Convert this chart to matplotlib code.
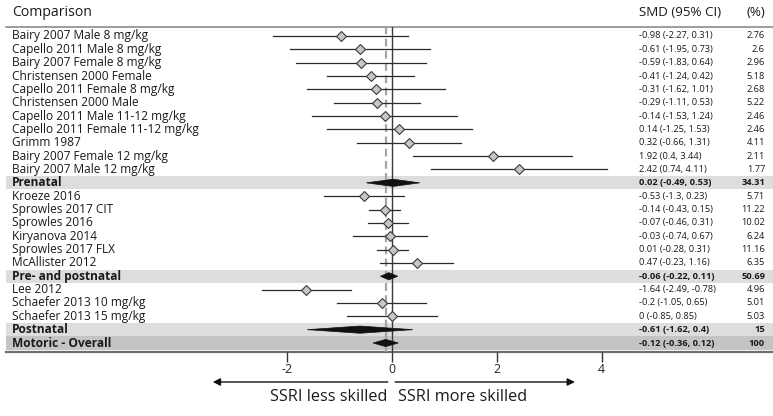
import matplotlib
matplotlib.use("Agg")
import matplotlib.pyplot as plt
from matplotlib.patches import Polygon
from matplotlib.transforms import blended_transform_factory

plt.rcParams['font.family'] = ['Open Sans', 'DejaVu Sans']

# ---- data -------------------------------------------------------------
labels = [
    "Bairy 2007 Male 8 mg/kg", "Capello 2011 Male 8 mg/kg", "Bairy 2007 Female 8 mg/kg",
    "Christensen 2000 Female", "Capello 2011 Female 8 mg/kg", "Christensen 2000 Male",
    "Capello 2011 Male 11-12 mg/kg", "Capello 2011 Female 11-12 mg/kg", "Grimm 1987",
    "Bairy 2007 Female 12 mg/kg", "Bairy 2007 Male 12 mg/kg", "Prenatal",
    "Kroeze 2016", "Sprowles 2017 CIT", "Sprowles 2016", "Kiryanova 2014",
    "Sprowles 2017 FLX", "McAllister 2012", "Pre- and postnatal",
    "Lee 2012", "Schaefer 2013 10 mg/kg", "Schaefer 2013 15 mg/kg", "Postnatal",
    "Motoric - Overall",
]
smd = [-0.98, -0.61, -0.59, -0.41, -0.31, -0.29, -0.14, 0.14, 0.32, 1.92, 2.42, 0.02,
       -0.53, -0.14, -0.07, -0.03, 0.01, 0.47, -0.06,
       -1.64, -0.2, 0, -0.61, -0.12]
ci_low = [-2.27, -1.95, -1.83, -1.24, -1.62, -1.11, -1.53, -1.25, -0.66, 0.4, 0.74, -0.49,
          -1.3, -0.43, -0.46, -0.74, -0.28, -0.23, -0.22,
          -2.49, -1.05, -0.85, -1.62, -0.36]
ci_high = [0.31, 0.73, 0.64, 0.42, 1.01, 0.53, 1.24, 1.53, 1.31, 3.44, 4.11, 0.53,
           0.23, 0.15, 0.31, 0.67, 0.31, 1.16, 0.11,
           -0.78, 0.65, 0.85, 0.4, 0.12]
weights = [2.76, 2.6, 2.96, 5.18, 2.68, 5.22, 2.46, 2.46, 4.11, 2.11, 1.77, 34.31,
           5.71, 11.22, 10.02, 6.24, 11.16, 6.35, 50.69,
           4.96, 5.01, 5.03, 15, 100]
row_kind = (["study"] * 11 + ["subgroup"] + ["study"] * 6 + ["subgroup"]
            + ["study"] * 3 + ["subgroup", "overall"])
xticks = [-2, 0, 2, 4]
overall_smd = -0.12

# ---- layout -----------------------------------------------------------
W, H = 773, 416
PX_PER_UNIT = 52.4
X0_PX = 392            # pixel column of SMD = 0
TOP_PX, BOT_PX = 27, 352

fig = plt.figure(figsize=(W / 100, H / 100), dpi=100)
ax = fig.add_axes([0, 1 - BOT_PX / H, 1, (BOT_PX - TOP_PX) / H])
ax.set_xlim(-X0_PX / PX_PER_UNIT, (W - X0_PX) / PX_PER_UNIT)
n = len(labels)
row_h = 13.35
pad = 9 / row_h
ax.set_ylim(n + pad, 1 - pad)

for s in ["top", "left", "right", "bottom"]:
    ax.spines[s].set_visible(False)
ax.set_yticks([])
ax.set_xticks(xticks)
ax.set_xticklabels([f"{t:g}" for t in xticks])
ax.tick_params(axis="x", direction="out", length=7, width=1, color="#333333",
               labelsize=8.8, labelcolor="#222222", pad=1)

band_x0 = 6 / W
ys = list(range(1, n + 1))

# shaded summary rows
for y, k in zip(ys, row_kind):
    if k == "subgroup":
        ax.axhspan(y - 0.5, y + 0.5, xmin=band_x0, xmax=1, color="#dcdddd", lw=0, zorder=0)
    elif k == "overall":
        ax.axhspan(y - 0.5, y + 0.5, xmin=band_x0, xmax=1, color="#c3c4c4", lw=0, zorder=0)

# header and bottom rules
ax.axhline(1 - pad, xmin=band_x0, xmax=1, color="#8c8c8c", lw=1.2, zorder=1, clip_on=False)
ax.axhline(n + pad, xmin=band_x0, xmax=1, color="#6e6e6e", lw=1.6, zorder=1, clip_on=False)

# reference lines: no effect, and overall estimate
ax.axvline(0, color="#3a3a3a", lw=1.0, zorder=2)
ax.axvline(overall_smd, color="#a5a5a5", lw=1.6, ls=(0, (3.5, 2)), zorder=2)

# study estimates and summary diamonds
for y, k, m, lo, hi in zip(ys, row_kind, smd, ci_low, ci_high):
    if k == "study":
        ax.plot([lo, hi], [y, y], color="#2a2a2a", lw=0.9, zorder=3)
        ax.plot([m], [y], marker="D", ms=5, mfc="#c6c6c6", mec="#3a3a3a", mew=0.8, zorder=4)
    else:
        hh = 0.27
        ax.add_patch(Polygon([[lo, y], [m, y - hh], [hi, y], [m, y + hh]],
                             closed=True, fc="#111111", ec="#111111", lw=0.5, zorder=4))

# text columns
tr = blended_transform_factory(fig.transFigure, ax.transData)
label_x = 12 / W
ci_x = 639 / W
w_x = 765 / W
for y, k, lab, m, lo, hi, w in zip(ys, row_kind, labels, smd, ci_low, ci_high, weights):
    bold = "bold" if k != "study" else "normal"
    ax.text(label_x, y, lab, transform=tr, ha="left", va="center",
            fontsize=8.6, fontweight=bold, color="#1a1a1a")
    ax.text(ci_x, y, f"{m:g} ({lo:g}, {hi:g})", transform=tr, ha="left", va="center",
            fontsize=6.7, fontweight=bold, color="#1a1a1a")
    ax.text(w_x, y, f"{w:g}", transform=tr, ha="right", va="center",
            fontsize=6.7, fontweight=bold, color="#1a1a1a")

# column headers
fig.text(12 / W, 1 - 13 / H, "Comparison", ha="left", va="center", fontsize=10.1, color="#1a1a1a")
fig.text(639 / W, 1 - 13 / H, "SMD (95% CI)", ha="left", va="center", fontsize=9.6, color="#1a1a1a")
fig.text(765 / W, 1 - 13 / H, "(%)", ha="right", va="center", fontsize=9.6, color="#1a1a1a")

# direction arrows under the axis
ta = blended_transform_factory(ax.transData, fig.transFigure)
arrow_y = 1 - 382 / H
ax.annotate("", xy=(-3.42, arrow_y), xytext=(-0.08, arrow_y), xycoords=ta, textcoords=ta,
            arrowprops=dict(arrowstyle="-|>", color="#111111", lw=1.0, mutation_scale=11,
                            shrinkA=0, shrinkB=0), annotation_clip=False)
ax.annotate("", xy=(3.49, arrow_y), xytext=(0.06, arrow_y), xycoords=ta, textcoords=ta,
            arrowprops=dict(arrowstyle="-|>", color="#111111", lw=1.0, mutation_scale=11,
                            shrinkA=0, shrinkB=0), annotation_clip=False)
text_y = 1 - 397 / H
ax.text(-0.08, text_y, "SSRI less skilled", transform=ta, ha="right", va="center",
        fontsize=11.7, color="#1a1a1a")
ax.text(0.12, text_y, "SSRI more skilled", transform=ta, ha="left", va="center",
        fontsize=11.7, color="#1a1a1a")

fig.savefig("out.png", dpi=100)
